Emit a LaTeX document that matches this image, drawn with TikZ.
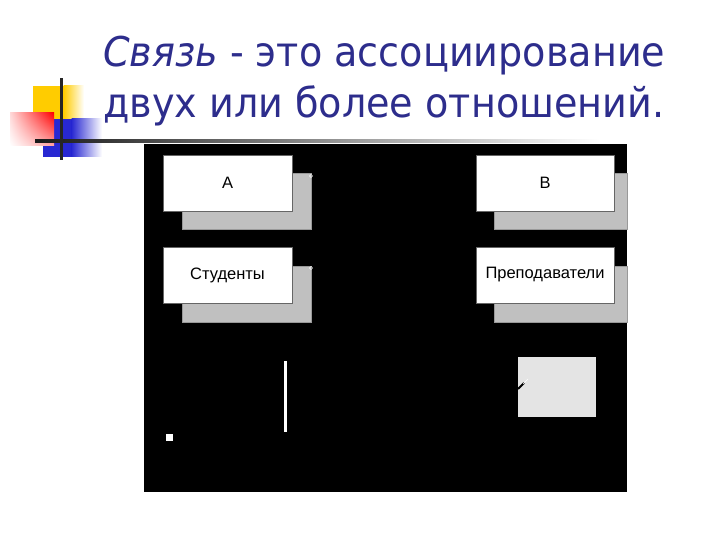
\documentclass[tikz,border=0pt]{standalone}
\usepackage{fontspec}
\usetikzlibrary{shadings}
\setmainfont{DejaVu Sans}
\newfontfamily\boxfont{Liberation Sans}
\definecolor{titleblue}{RGB}{45,45,140}
\definecolor{shadowgray}{RGB}{192,192,192}
\definecolor{lightbox}{RGB}{228,228,228}
\definecolor{logoyellow}{RGB}{255,204,0}
\definecolor{logoblue}{RGB}{40,40,210}
\begin{document}
\begin{tikzpicture}[x=1pt,y=-1pt,
  whitebox/.style={draw=black!60, line width=0.4pt, fill=white, minimum width=129pt, minimum height=56pt, inner sep=0pt, font=\boxfont\fontsize{16.5}{18}\selectfont},
  shadowbox/.style={fill=shadowgray, draw=black!40, line width=0.3pt},
  titletext/.style={anchor=base west, inner sep=0pt, text=titleblue, font=\fontsize{41}{45}\selectfont}]
\useasboundingbox (0,0) rectangle (720,540);
\fill[white] (0,0) rectangle (720,540);
% logo
\fill[logoyellow] (33,86) rectangle (64,120);
\shade[left color=logoyellow, right color=white] (63.5,86) rectangle (84,120);
\fill[logoblue] (43,119) rectangle (72,157);
\shade[left color=logoblue, right color=white] (71.5,119) rectangle (102,157);
\shade[upper right=red, upper left=red!15!white, lower right=red!35!white, lower left=white] (10,113) rectangle (54,146);
\shade[left color=black!90, right color=white] (35,140) rectangle (600,143);
\fill[black!85] (59.5,78) rectangle (62.5,160);
% title
\node[titletext] (t1) at (103,67) {\scalebox{0.93}[1]{\textit{Связь} - это ассоциирование}};
\node[titletext] (t2) at (103,118) {\scalebox{0.93}[1]{двух или более отношений.}};
% black panel
\fill[black] (144,144) rectangle (627,492);
% shadows
\fill[shadowbox] (182,173) rectangle (311,229);
\fill[shadowbox] (182,266) rectangle (311,322);
\fill[shadowbox] (494,173) rectangle (627,229);
\fill[shadowbox] (494,266) rectangle (627,322);
% boxes
\node[whitebox] (a) at (227.5,183) {A};
\node[whitebox, minimum width=138pt] (b) at (545,183) {B};
\node[whitebox] (s) at (227.5,275) {Студенты};
\node[whitebox, minimum width=138pt] (p) at (545,275) {Преподаватели};
% small marks
\draw[white, line width=0.5pt] (311,176) circle (1.6);
\draw[white, line width=0.5pt] (311,268) circle (1.6);
% vertical white bar
\fill[white] (283.5,361) rectangle (287,432);
% small square
\fill[white] (166,434) rectangle (173,441);
% light gray box
\node[fill=lightbox, minimum width=78pt, minimum height=60pt, inner sep=0pt] (g) at (557,387) {};
\draw[black, line width=2pt] (518,389) -- (524,383);
\draw[white, line width=0.6pt] (523,384) -- (528,379);
\end{tikzpicture}
\end{document}
